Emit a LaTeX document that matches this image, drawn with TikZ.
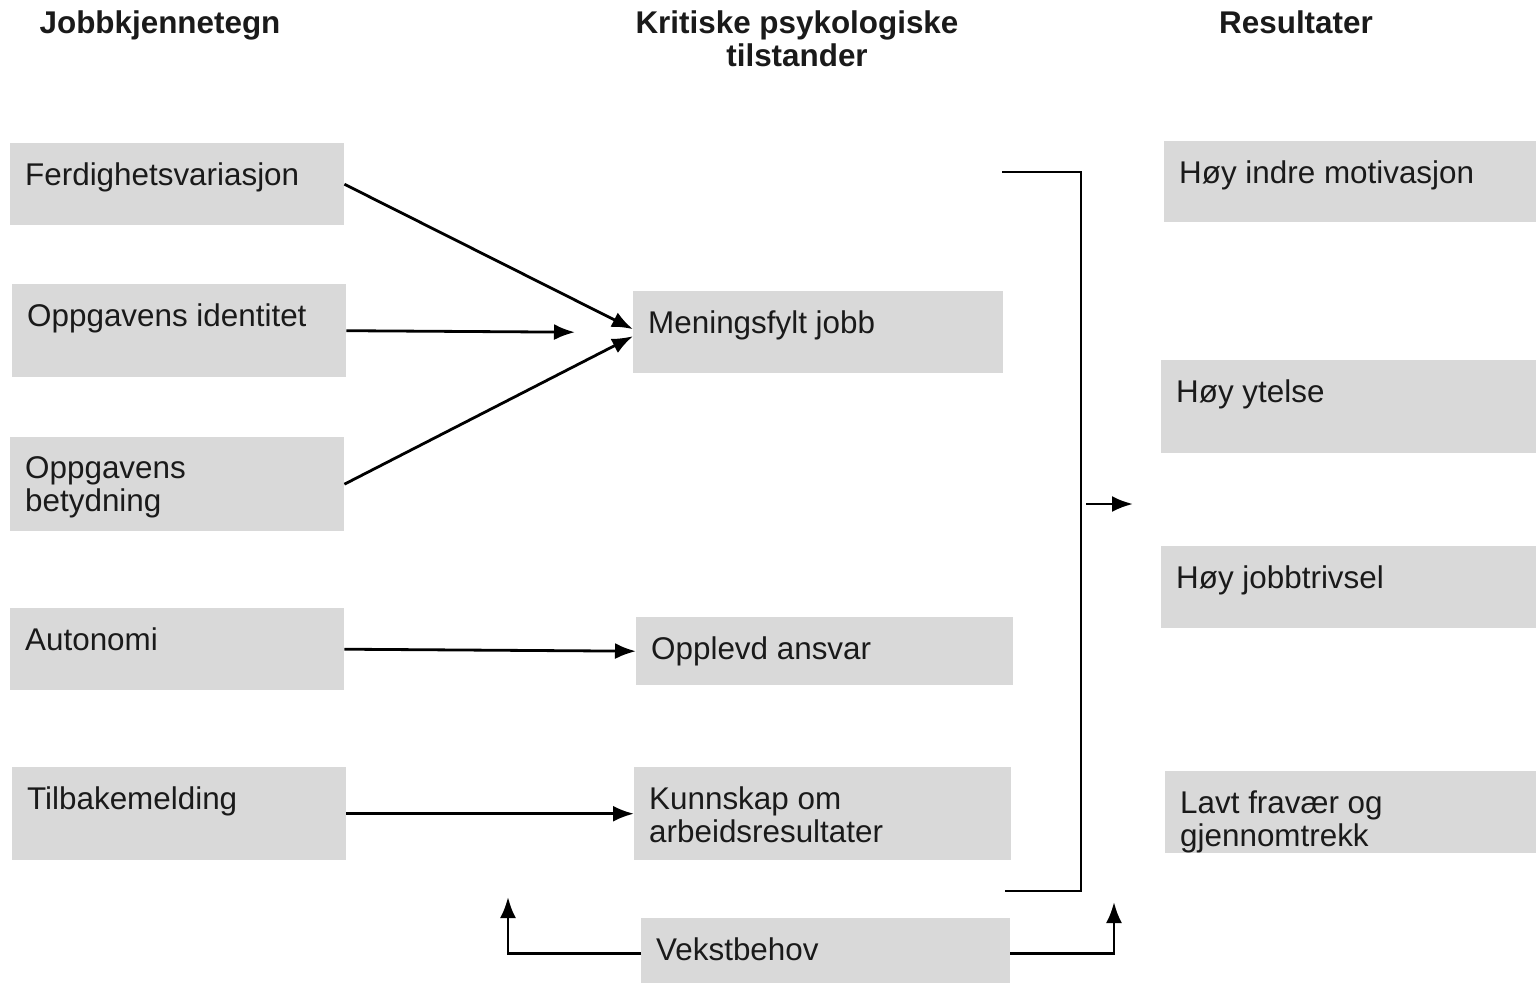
\documentclass[tikz,border=0pt]{standalone}
\usepackage{fontspec}
\setmainfont{Liberation Sans}
\usetikzlibrary{arrows.meta}
\definecolor{boxgray}{HTML}{D9D9D9}
\definecolor{ink}{HTML}{1A1A1A}

\tikzset{
  gbox/.style={fill=boxgray, inner sep=0pt, anchor=north west},
  gtext/.style={anchor=north west, inner sep=0pt, align=left, text=ink,
    font=\fontsize{31.4}{33}\selectfont},
  head/.style={anchor=north, inner sep=0pt, align=center, text=ink,
    font=\bfseries\fontsize{31.4}{33}\selectfont},
  link/.style={line width=2.8pt, -{Latex[length=21pt,width=16pt]}},
  bar/.style={line width=2.8pt}
}

% grey box with its text in the top left corner
\newcommand{\jbox}[6]{%
  \node[gbox, minimum width=#4pt, minimum height=#5pt] (#1) at (#2,#3) {};
  \node[gtext] (#1-t) at ([shift={(15pt,-19.5pt)}]#1.north west) {#6};
}

\begin{document}
\begin{tikzpicture}[x=1pt, y=-1pt]
      \useasboundingbox (0,0) rectangle (1536,983);

      % Headers
      \node[head] (h-jobb) at (160,11) {Jobbkjennetegn};
      \node[head] (h-krit) at (797,11) {Kritiske psykologiske\\tilstander};
      \node[head] (h-res) at (1296,11) {Resultater};

      % Jobbkjennetegn
      \jbox{fer}{10}{143}{334}{82}{Ferdighetsvariasjon}
      \jbox{ide}{12}{284}{334}{93}{Oppgavens identitet}
      \jbox{bet}{10}{437}{334}{94}{Oppgavens\\betydning}
      \jbox{aut}{10}{608}{334}{82}{Autonomi}
      \jbox{til}{12}{767}{334}{93}{Tilbakemelding}

      % Kritiske psykologiske tilstander
      \jbox{men}{633}{291}{370}{82}{Meningsfylt jobb}
      \jbox{ans}{636}{617}{377}{68}{Opplevd ansvar}
      \jbox{kun}{634}{767}{377}{93}{Kunnskap om\\arbeidsresultater}
      \jbox{vek}{641}{918}{369}{65}{Vekstbehov}

      % Resultater
      \jbox{mot}{1164}{141}{372}{81}{Høy indre motivasjon}
      \jbox{yte}{1161}{360}{375}{93}{Høy ytelse}
      \jbox{tri}{1161}{546}{375}{82}{Høy jobbtrivsel}
      \jbox{fra}{1165}{771}{371}{82}{Lavt fravær og\\gjennomtrekk}

      % Arrows into the middle column
      \draw[link] (fer.east) -- ([yshift=3pt]men.west);
      \draw[link] (ide.east) -- ([xshift=-58pt]men.west);
      \draw[link] (bet.east) -- ([yshift=-4pt]men.west);
      \draw[link] (aut.east) -- (ans.west);
      \draw[link] (til.east) -- (kun.west);

      % Bracket towards the results
      \coordinate (br-top) at (1002,172);
      \coordinate (br-bot) at (1005,891);
      \draw[bar] (br-top) -- (1081,172) -- (1081,891) -- (br-bot);
      \coordinate (res-a) at (1086,504);
      \coordinate (res-b) at (1133,504);
      \draw[link] (res-a) -- (res-b);

      % Vekstbehov
      \coordinate (vek-l) at (508,897);
      \coordinate (vek-r) at (1114,902);
      \draw[link] ([yshift=-3pt]vek.west) -| (vek-l);
      \draw[link] ([yshift=-3pt]vek.east) -| (vek-r);
\end{tikzpicture}
\end{document}
